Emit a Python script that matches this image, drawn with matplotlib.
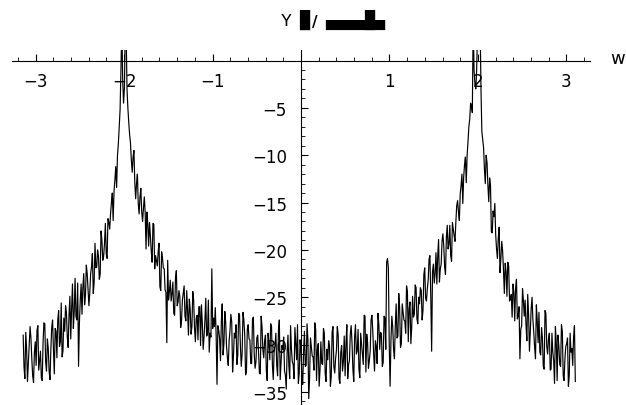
import numpy as np
import matplotlib
matplotlib.use("Agg")
import matplotlib.pyplot as plt
from matplotlib.ticker import MultipleLocator, FixedLocator

# ---- data (in dB) ----
# samples are evenly spaced in w; "even" samples and the "odd" samples in between
w_start, w_end = -3.14, 3.10

left_floor = [-29.0, -33.6, -30.5, -32.0, -28.1, -31.5, -34.0, -29.7, -28.5, -32.7,
              -30.7, -33.8, -27.7, -31.8, -29.4, -32.8, -30.6, -27.4, -33.1, -28.6,
              -27.4, -30.2, -25.6, -30.7, -28.6, -26.6, -30.3, -24.9, -26.2, -28.3,
              -23.0, -27.4, -32.3, -25.3, -26.8, -22.5, -24.8, -22.5, -25.9, -22.5,
              -20.4, -23.5, -21.9, -20.0, -23.1, -18.0, -21.1, -19.3, -20.4, -16.7]
left_peak = [-17.8, -15.0, -16.9, -12.6, -13.4, -8.8, -5.2, 4.0, -4.5, 4.0,
             -3.0, -6.5, -8.7, -11.8, -9.5, -14.6, -12.0, -16.2, -13.5, -17.0]
middle_left = [-14.4, -19.9, -17.3, -17.1, -20.1, -17.2, -22.0, -21.1, -20.2, -23.9,
               -20.2, -21.9, -24.2, -29.8, -25.3, -23.2, -24.6, -26.7, -23.0, -25.9,
               -24.3, -28.2, -25.3, -23.8, -27.5, -26.5, -25.2, -28.9, -24.4, -28.2,
               -27.2, -29.5, -26.0, -25.8, -30.5, -27.5, -29.1, -25.3, -28.8, -22.0,
               -27.2, -26.1, -34.2, -28.5, -31.7, -25.7, -29.9, -27.6, -31.4, -29.6,
               -26.8, -32.9, -28.8, -27.9, -31.1, -26.8, -32.3, -26.6, -28.9, -32.9,
               -27.9, -29.5, -32.0, -27.1, -32.5, -29.3, -30.8, -33.1, -28.1, -31.4,
               -29.0, -33.8, -29.9, -27.8, -32.2, -30.7, -28.8, -33.3, -27.4, -31.9,
               -30.5, -32.8, -34.7, -29.0, -33.6, -30.5, -32.1, -28.2, -31.6, -34.1]
middle_right = [-29.5, -33.1, -30.8, -32.3, -27.8, -35.7, -29.3, -31.2, -32.7, -28.4,
                -30.5, -34.4, -29.7, -32.1, -28.8, -33.9, -31.6, -30.2, -33.4, -28.1,
                -33.0, -30.6, -29.0, -34.1, -30.1, -31.8, -33.3, -27.9, -32.1, -28.9,
                -29.8, -33.9, -27.9, -30.7, -32.6, -28.8, -31.1, -26.9, -32.9, -29.8,
                -31.7, -27.4, -28.6, -32.8, -30.2, -26.7, -30.5, -28.9, -31.9, -27.2,
                -21.3, -21.9, -34.4, -27.0, -30.5, -28.0, -29.3, -24.6, -30.3, -25.7,
                -27.4, -28.8, -24.4, -26.2, -29.9, -24.9, -26.8, -24.0, -27.8, -25.7,
                -24.3, -26.4, -21.9, -25.4, -23.2, -20.6, -30.7, -21.5, -22.5, -23.6,
                -18.9, -22.0, -19.1, -19.6, -22.6, -17.4, -19.4, -20.6, -17.1, -18.5]
right_peak = [-17.0, -14.8, -16.9, -13.2, -15.1, -11.0, -12.9, -8.6, -6.2, -4.8,
              4.0, -2.5, -1.0, 5.0, 4.0, -7.5, -9.2, -13.0, -10.8, -14.9]
right_floor = [-13.2, -18.2, -16.5, -18.4, -20.9, -17.6, -20.9, -20.1, -24.6, -22.3,
               -21.3, -25.4, -24.7, -23.6, -27.5, -23.1, -27.0, -31.5, -28.0, -25.3,
               -25.3, -29.6, -26.8, -28.6, -25.0, -28.7, -31.5, -27.5, -26.6, -31.1,
               -29.3, -32.6, -26.7, -31.0, -28.8, -32.6, -30.8, -34.1, -29.8, -29.0,
               -32.1, -27.9, -33.3, -31.5, -29.9, -34.4, -28.8, -30.4, -29.2, -33.9]

# in-between samples
left_floor_b = [-32.4, -28.7, -33.9, -30.2, -29.3, -33.3, -30.8, -32.2, -28.0, -31.7,
                -33.5, -29.8, -27.8, -32.8, -30.4, -33.7, -28.2, -30.5, -28.3, -31.4,
                -26.4, -29.7, -31.3, -27.2, -25.9, -29.2, -26.9, -29.4, -23.6, -26.6,
                -27.0, -23.5, -27.7, -23.6, -24.0, -25.8, -21.6, -24.2, -24.5, -21.8,
                -24.6, -19.3, -21.8, -20.6, -22.6, -19.0, -20.7, -17.2, -20.9, -17.1]
left_peak_b = [-16.2, -14.0, -13.8, -11.2, -10.0, -7.0, -1.0, -2.0, -3.0, 3.0,
               -5.0, -7.8, -10.5, -10.2, -12.9, -13.0, -15.1, -14.4, -16.0, -15.6]
middle_left_b = [-16.1, -16.0, -19.6, -18.5, -21.3, -17.3, -20.6, -21.7, -19.3, -24.3,
                 -20.9, -22.0, -24.5, -21.1, -24.4, -25.4, -23.4, -26.9, -22.2, -25.5,
                 -24.9, -27.5, -24.5, -27.0, -24.3, -29.0, -26.3, -28.1, -25.3, -29.7,
                 -26.9, -26.0, -30.1, -27.7, -29.2, -25.1, -28.9, -30.8, -29.2, -28.3,
                 -28.1, -29.0, -28.0, -29.4, -27.6, -31.1, -26.5, -30.2, -32.2, -28.5,
                 -27.6, -31.2, -29.3, -32.1, -26.7, -30.1, -31.0, -27.4, -33.2, -28.4,
                 -29.4, -32.0, -27.3, -31.0, -31.8, -29.0, -33.0, -27.0, -30.6, -29.6,
                 -32.8, -28.8, -31.6, -28.1, -33.7, -30.1, -32.2, -28.5, -33.7, -30.1,
                 -29.2, -33.2, -30.8, -32.2, -28.0, -31.8, -33.6, -29.9, -27.9, -33.0]
middle_right_b = [-30.6, -34.2, -28.6, -32.2, -29.4, -33.4, -30.3, -31.3, -27.7, -33.8,
                  -29.9, -32.7, -32.0, -28.3, -33.1, -30.5, -29.6, -34.4, -28.7, -32.3,
                  -31.5, -28.1, -33.6, -30.8, -32.8, -29.1, -29.9, -33.6, -31.7, -28.0,
                  -32.6, -29.2, -31.0, -28.4, -33.5, -29.9, -32.1, -27.0, -28.9, -32.5,
                  -30.7, -26.9, -31.0, -29.6, -32.0, -27.9, -28.7, -32.3, -27.0, -30.5,
                  -20.9, -30.0, -29.5, -28.1, -31.5, -25.7, -29.1, -26.1, -29.9, -26.6,
                  -27.5, -23.8, -29.7, -25.5, -28.1, -27.1, -23.7, -27.3, -25.0, -24.0,
                  -27.4, -22.6, -25.1, -24.1, -21.0, -24.9, -22.3, -23.5, -20.3, -20.7,
                  -23.4, -21.5, -18.3, -21.8, -18.7, -19.9, -17.4, -21.2, -17.8, -19.1]
right_peak_b = [-15.3, -16.0, -14.1, -12.0, -12.3, -10.2, -10.0, -7.0, -4.5, -5.5,
                -1.0, -3.0, 3.0, 5.0, -3.0, -8.3, -11.5, -10.0, -13.2, -12.4]
right_floor_b = [-18.1, -15.9, -15.1, -19.9, -18.7, -22.4, -19.1, -22.1, -21.4, -24.9,
                 -21.7, -25.2, -27.1, -24.5, -24.0, -27.3, -26.0, -28.4, -24.1, -27.0,
                 -27.9, -24.7, -30.7, -26.2, -27.4, -30.3, -25.8, -29.8, -30.8, -28.2,
                 -32.3, -26.4, -30.2, -29.4, -32.7, -28.8, -31.7, -28.1, -33.8, -30.2,
                 -32.3, -28.6, -33.8, -30.2, -29.3, -33.3, -30.8, -32.2, -28.0]

x_major = [-3, -2, -1, 1, 2, 3]
y_major = [-5, -10, -15, -20, -25, -30, -35]

Y_even = np.array(left_floor + left_peak + middle_left + middle_right + right_peak + right_floor)
Y_odd = np.array(left_floor_b + left_peak_b + middle_left_b + middle_right_b
                 + right_peak_b + right_floor_b)
Y = np.empty(len(Y_even) + len(Y_odd))
Y[0::2] = Y_even
Y[1::2] = Y_odd
w = np.linspace(w_start, w_end, len(Y))

# ---- figure ----
W, H = 626, 406
fig = plt.figure(figsize=(W / 100, H / 100), dpi=100)
ax = fig.add_axes([12 / W, 0, 578 / W, 355 / H])
ax.plot(w, Y, color="black", lw=0.85)
ax.set_xlim(-3.266, 3.266)
ax.set_ylim(-36.38, 1.11)

for s in ("top", "right"):
    ax.spines[s].set_visible(False)
ax.spines["left"].set_position(("data", 0))
ax.spines["bottom"].set_position(("data", 0))
for s in ("left", "bottom"):
    ax.spines[s].set_linewidth(0.8)

ax.xaxis.set_major_locator(FixedLocator(x_major))
ax.xaxis.set_minor_locator(MultipleLocator(0.2))
ax.yaxis.set_major_locator(FixedLocator(y_major))
ax.yaxis.set_minor_locator(FixedLocator(np.arange(-36, 0, 1)))
ax.set_xticklabels([f"\u2212{abs(v)}" if v < 0 else str(v) for v in x_major])
ax.set_yticklabels([f"\u2212{abs(v)}" for v in y_major])

ax.tick_params(axis="x", which="major", direction="in", length=5, width=0.8,
               pad=8, labelsize=12)
ax.tick_params(axis="x", which="minor", direction="in", length=3, width=0.6)
ax.tick_params(axis="y", which="major", direction="in", length=5, width=0.8,
               pad=10, labelsize=12)
ax.tick_params(axis="y", which="minor", direction="in", length=3, width=0.6)

# axis label
fig.text(618 / W, 1 - 59 / H, "w", ha="center", va="center", fontsize=13)

# title (rendered with missing-glyph boxes in the reference)
fig.text(286 / W, 1 - 21 / H, "Y", ha="center", va="center", fontsize=13,
         family="Liberation Mono")
fig.text(304 / W, 1 - 20 / H, "\u2588", ha="center", va="center", fontsize=12,
         family="DejaVu Sans Mono")
fig.text(315 / W, 1 - 23 / H, "/", ha="center", va="center", fontsize=11,
         family="DejaVu Sans", weight="bold")
fig.text(325 / W, 1 - 20 / H, "\u2584\u2584\u2584\u2584\u2588\u2584", ha="left",
         va="center", fontsize=12, family="DejaVu Sans Mono")

fig.savefig("out.png", dpi=100)
